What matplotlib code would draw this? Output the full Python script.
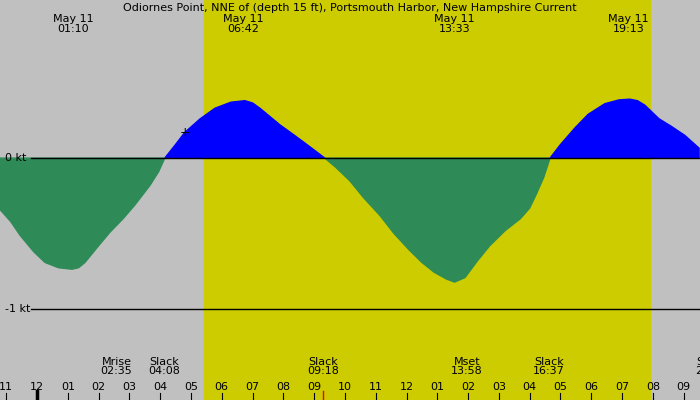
import numpy as np
import matplotlib.pyplot as plt

# hours since midnight May 11, current in knots
hours = [-1.2, -0.85, -0.55, -0.1, 0.26, 0.7, 1.14, 1.35, 1.56, 2.0, 2.37, 2.8, 3.18, 3.67, 3.95, 4.15,
         4.5, 4.8, 5.3, 5.78, 6.3, 6.75, 7.0, 7.24, 7.89, 8.3, 8.7, 9.35, 9.7, 10.16, 10.6, 11.14, 11.6,
         12.1, 12.5, 12.9, 13.3, 13.56, 13.9, 14.3, 14.7, 15.2, 15.7, 16.0, 16.2, 16.45, 16.66, 17.0,
         17.47, 17.9, 18.44, 18.9, 19.25, 19.5, 19.74, 20.2, 20.6, 21.04, 21.5]
knots = [-0.34, -0.42, -0.51, -0.62, -0.69, -0.725, -0.735, -0.725, -0.69, -0.58, -0.49, -0.40, -0.31,
         -0.18, -0.09, 0.0, 0.09, 0.17, 0.26, 0.33, 0.37, 0.38, 0.365, 0.33, 0.22, 0.16, 0.10, 0.0,
         -0.06, -0.15, -0.26, -0.38, -0.50, -0.61, -0.69, -0.755, -0.80, -0.82, -0.79, -0.68, -0.58,
         -0.48, -0.40, -0.33, -0.245, -0.13, 0.0, 0.09, 0.2, 0.29, 0.36, 0.385, 0.39, 0.38, 0.35, 0.26,
         0.21, 0.15, 0.066]

peak_times = [1.167, 6.7, 13.55, 19.217]
peak_labels = ["01:10", "06:42", "13:33", "19:13"]
event_times = [2.583, 4.133, 9.3, 13.967, 16.617, 21.9]
event_names = ["Mrise", "Slack", "Slack", "Mset", "Slack", "Slack"]
event_labels = ["02:35", "04:08", "09:18", "13:58", "16:37", "21:55"]
tick_hours = list(range(-1, 22))
tick_labels = ["11", "12"] + ["%02d" % h for h in range(1, 13)] + ["%02d" % h for h in range(1, 10)]
day_start, day_end = 5.42, 19.9

x0, x1 = -1.2, 21.53
y0, y1 = -1.6, 1.046

fig = plt.figure(figsize=(7, 4), dpi=100)
ax = fig.add_axes([0, 0, 1, 1])
ax.set_xlim(x0, x1)
ax.set_ylim(y0, y1)
ax.axis('off')
ax.axvspan(x0, x1, color='#c0c0c0', zorder=0)
ax.axvspan(day_start, day_end, color='#cccc00', zorder=0)

h = np.array(hours)
k = np.array(knots)
ax.fill_between(h, 0, k, where=k >= 0, color='#0000ff', interpolate=True, zorder=2)
ax.fill_between(h, 0, k, where=k <= 0, color='#2e8b57', interpolate=True, zorder=2)

ax.plot([-0.2, x1], [0, 0], color='black', lw=1, zorder=3)
ax.plot([-0.2, x1], [-1, -1], color='black', lw=1, zorder=3)
ax.text(x0 + 0.15, 0, "0 kt", fontsize=8, va='center', ha='left')
ax.text(x0 + 0.15, -1, "-1 kt", fontsize=8, va='center', ha='left')

ax.text(0.5, 0.992, "Odiornes Point, NNE of (depth 15 ft), Portsmouth Harbor, New Hampshire Current",
        transform=ax.transAxes, ha='center', va='top', fontsize=8)
for t, lab in zip(peak_times, peak_labels):
    ax.text(t, 0.965, "May 11\n" + lab, transform=ax.get_xaxis_transform(), ha='center', va='top',
            fontsize=8, linespacing=0.95)
for t, n, lab in zip(event_times, event_names, event_labels):
    ax.text(t, 0.108, n + "\n" + lab, transform=ax.get_xaxis_transform(), ha='center', va='top',
            fontsize=8, linespacing=0.95)
for t, lab in zip(tick_hours, tick_labels):
    ax.text(t, 0.02, lab, transform=ax.get_xaxis_transform(), ha='center', va='bottom', fontsize=8)
    ax.plot([t, t], [0, 0.018], transform=ax.get_xaxis_transform(), color='black', lw=0.8)
ax.plot([0, 0], [0, 0.022], transform=ax.get_xaxis_transform(), color='black', lw=2.5)
ax.plot([9.3, 9.3], [0, 0.022], transform=ax.get_xaxis_transform(), color='red', lw=1)
ax.text(4.8, 0.17, "+", fontsize=9, ha='center', va='center', zorder=4)

fig.savefig("out.png", dpi=100)
